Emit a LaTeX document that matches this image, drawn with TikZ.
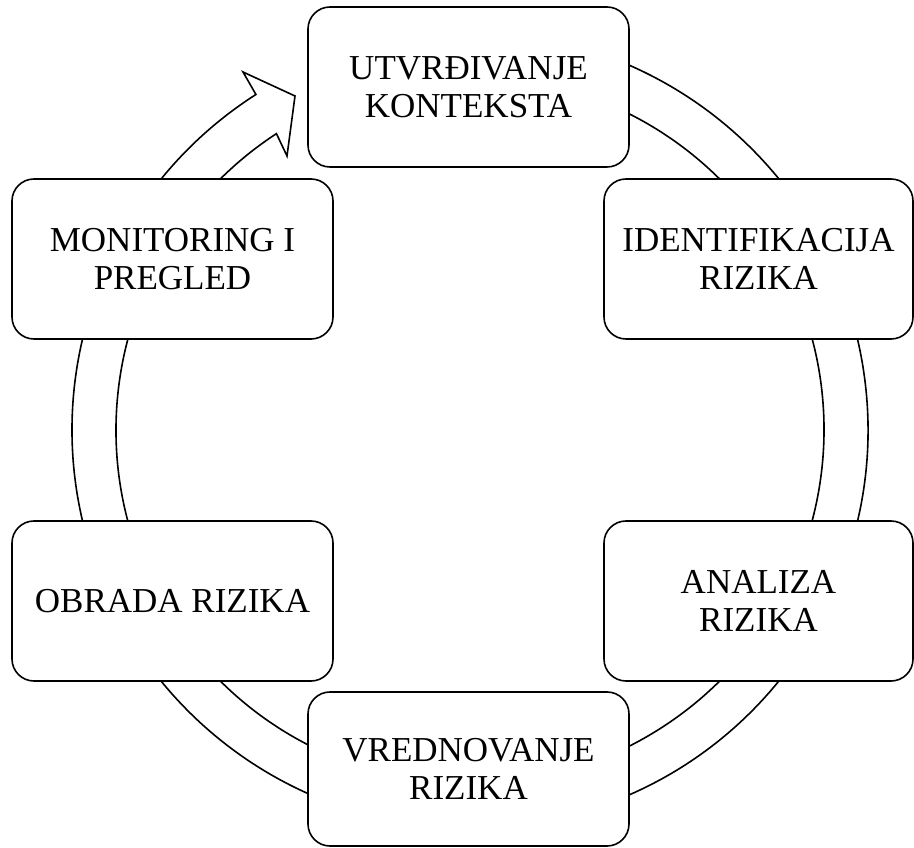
\documentclass[tikz,border=0pt]{standalone}
\usepackage{fontspec}
\setmainfont{Liberation Serif}
\begin{document}
\begin{tikzpicture}[x=1pt,y=1pt,
  box/.style={draw, line width=1.6pt, rounded corners=22pt, fill=white, align=center,
    font=\fontsize{35}{38}\selectfont, inner sep=0pt},
  ring/.style={draw, line width=1.6pt, fill=white, line join=miter}]
\useasboundingbox (0,0) rectangle (914,847);
% circular arrow band
\draw[ring, shift={(470,417)}]
  (100:398) arc[start angle=100, end angle=-237.46, radius=398]
  -- (-227,358) -- (-175,334) -- (-183,274)
  -- (123.15:354) arc[start angle=-236.85, end angle=100, radius=354] -- cycle;
% boxes
\node[box, minimum width=321pt, minimum height=160pt] (ctx) at (468.5,760) {UTVRĐIVANJE\\KONTEKSTA};
\node[box, minimum width=309pt, minimum height=160pt] (ide) at (758.5,588) {IDENTIFIKACIJA\\RIZIKA};
\node[box, minimum width=309pt, minimum height=160pt] (ana) at (758.5,246) {ANALIZA\\RIZIKA};
\node[box, minimum width=321pt, minimum height=154pt] (vre) at (468.5,78) {VREDNOVANJE\\RIZIKA};
\node[box, minimum width=321pt, minimum height=160pt] (obr) at (172.5,246) {OBRADA RIZIKA};
\node[box, minimum width=321pt, minimum height=160pt] (mon) at (172.5,588) {MONITORING I\\PREGLED};
\end{tikzpicture}
\end{document}
